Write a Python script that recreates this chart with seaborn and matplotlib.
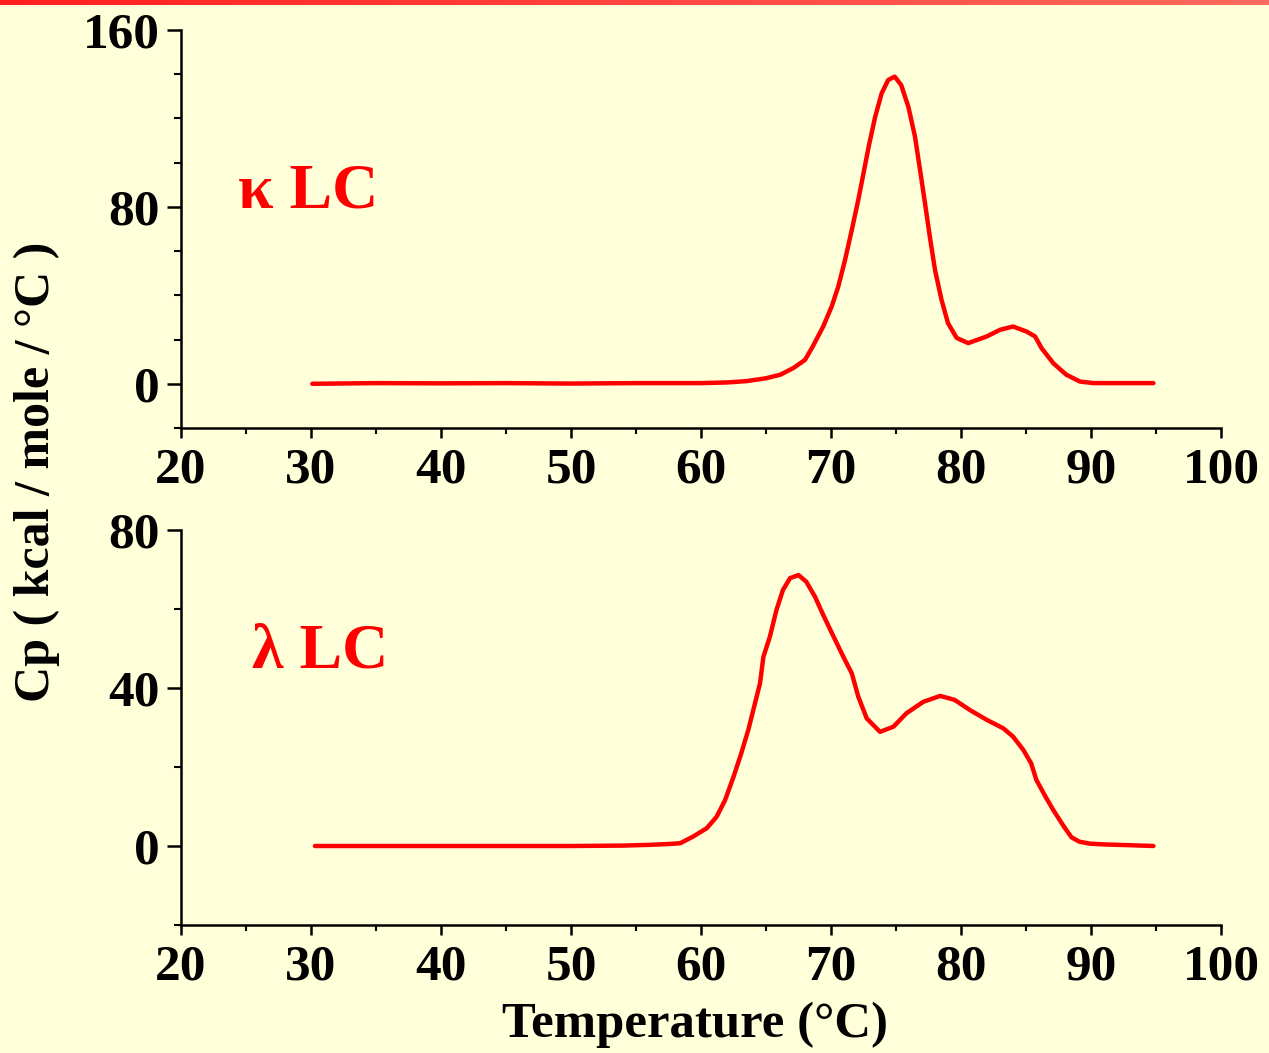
import numpy as np
import pandas as pd
import seaborn as sns
import matplotlib.pyplot as plt
from matplotlib.ticker import MultipleLocator
from matplotlib.colors import LinearSegmentedColormap

# kappa light chain thermogram
kappa_t = [30.1, 35, 40, 45, 50, 55, 60, 62, 63.5, 65, 66.1, 67.1, 68.0, 68.6, 69.4,
           70.05, 70.56, 71.08, 71.6, 72.1, 72.5, 72.9, 73.4, 73.9, 74.4, 74.9, 75.4,
           75.95, 76.46, 76.85, 77.23, 77.6, 78.0, 78.5, 79.0, 79.67, 80.56, 81.98,
           83.0, 84.0, 85.05, 85.7, 86.2, 87.1, 88.1, 89.15, 90.2, 92.5, 94.8]
kappa_cp = [0, 0.3, 0.2, 0.3, 0.1, 0.3, 0.3, 0.6, 1.2, 2.5, 4.1, 7.1, 10.8, 16.9, 25.9,
            34.9, 44, 56, 69.6, 83.2, 95.2, 107.3, 120.8, 131.4, 137.4, 138.9, 135.1,
            125.3, 111.8, 96.7, 81.7, 66.6, 51.5, 38, 27.4, 20.7, 18.4, 21.4,
            24.4, 25.9, 23.6, 21.4, 16.1, 9.3, 4.1, 1.0, 0.3, 0.3, 0.3]

# lambda light chain thermogram
lambda_t = [30.3, 35, 40, 45, 50, 54, 56.1, 57.5, 58.4, 59.4, 60.44, 61.2, 61.85, 62.5,
            63.1, 63.64, 64.15, 64.54, 64.8, 65.3, 65.8, 66.3, 66.85, 67.5, 68.1, 68.77,
            69.4, 70.2, 70.95, 71.6, 72.1, 72.75, 73.77, 74.8, 75.8, 77.1, 78.4, 79.5,
            80.7, 82.0, 83.25, 84.0, 84.8, 85.4, 85.8, 86.5, 87.1, 87.9, 88.5, 89.1,
            89.9, 91.0, 93.0, 94.8]
lambda_cp = [0, 0, 0, 0, 0, 0.1, 0.3, 0.5, 0.7, 2.4, 4.5, 7.4, 11.6, 17.5,
             23.5, 29.4, 36.1, 41.2, 47.9, 53, 59.7, 64.8, 67.8, 68.6, 66.9, 63.1,
             58.5, 53, 47.9, 43.7, 37.8, 32.3, 28.9, 30.2, 33.6, 36.5, 38, 37,
             34.4, 31.9, 29.8, 27.7, 24.3, 20.9, 16.7, 12.5, 9.1, 5.0, 2.2, 1.1,
             0.6, 0.4, 0.2, 0]

bg = "#FFFFDA"
sns.set_style("ticks")
plt.rcParams["font.family"] = ["Liberation Serif", "DejaVu Serif"]
plt.rcParams["font.weight"] = "bold"
for k in ["text.color", "axes.labelcolor", "xtick.color", "ytick.color"]:
    plt.rcParams[k] = "black"

fig = plt.figure(figsize=(12.69, 10.53), dpi=100, facecolor=bg)

# red gradient strip along the top edge
strip = fig.add_axes([0, 1 - 5 / 1053, 1, 5 / 1053])
grad = np.linspace(0, 1, 256).reshape(1, -1)
cm = LinearSegmentedColormap.from_list("g", ["#FF1E1E", "#FF6A5E"])
strip.imshow(grad, aspect="auto", cmap=cm)
strip.axis("off")

ax1 = fig.add_axes([181 / 1269, 1 - 428 / 1053, 1040 / 1269, 398 / 1053])
ax2 = fig.add_axes([181 / 1269, 1 - 925 / 1053, 1040 / 1269, 395 / 1053])

df_k = pd.DataFrame({"T": kappa_t, "Cp": kappa_cp})
df_l = pd.DataFrame({"T": lambda_t, "Cp": lambda_cp})
sns.lineplot(data=df_k, x="T", y="Cp", ax=ax1, color="#FF0000", lw=3.2)
sns.lineplot(data=df_l, x="T", y="Cp", ax=ax2, color="#FF0000", lw=3.2)

for ax, ymax, ystep in [(ax1, 160, 80), (ax2, 80, 40)]:
    ax.set_facecolor(bg)
    ax.set_xlim(20, 100)
    ax.set_ylim(-20, ymax)
    ax.xaxis.set_major_locator(MultipleLocator(10))
    ax.xaxis.set_minor_locator(MultipleLocator(5))
    ax.yaxis.set_major_locator(MultipleLocator(ystep))
    ax.yaxis.set_minor_locator(MultipleLocator(20))
    for s in ["top", "right"]:
        ax.spines[s].set_visible(False)
    for s in ["left", "bottom"]:
        ax.spines[s].set_linewidth(1.8)
        ax.spines[s].set_color("black")
    ax.tick_params(axis="y", which="major", length=10, width=1.8, labelsize=37, pad=5)
    ax.tick_params(axis="y", which="minor", length=5, width=1.5)
    ax.tick_params(axis="x", which="major", length=7, width=1.8, labelsize=37, pad=7)
    ax.tick_params(axis="x", which="minor", length=4, width=1.5)
    for lab in ax.get_xticklabels() + ax.get_yticklabels():
        lab.set_fontweight("bold")
    ax.set_xlabel("")
    ax.set_ylabel("")

fig.text(238 / 1269, 1 - 192 / 1053, "κ LC", color="#FF0000", fontsize=46,
         fontweight="bold", va="center", ha="left")
fig.text(252 / 1269, 1 - 652 / 1053, "λ LC", color="#FF0000", fontsize=46,
         fontweight="bold", va="center", ha="left")

fig.text(37 / 1269, 1 - 472 / 1053, "Cp ( kcal / mole / °C )", rotation=90,
         ha="center", va="center", fontsize=36, fontweight="bold")
fig.text(695 / 1269, 1 - 1025 / 1053, "Temperature (°C)", ha="center", va="center",
         fontsize=36.5, fontweight="bold")

fig.savefig("out.png", dpi=100, facecolor=bg)
